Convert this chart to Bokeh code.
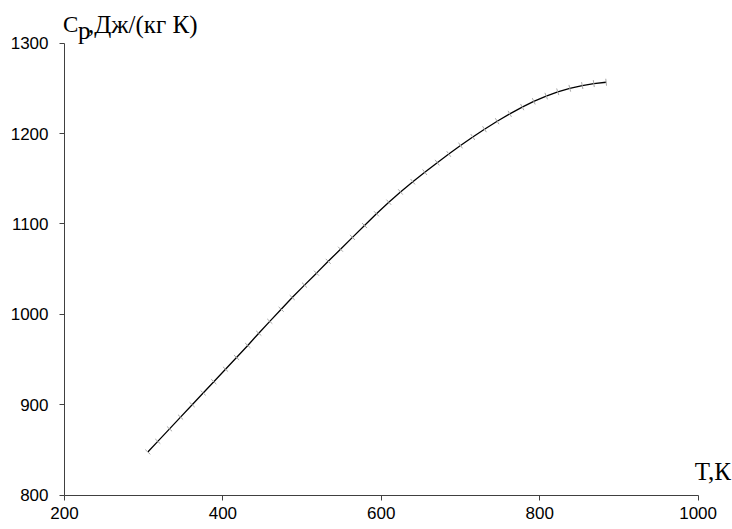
import numpy as np
from bokeh.plotting import figure
from bokeh.models import Range1d, FixedTicker, ColumnDataSource, LinearAxis
from bokeh.core.properties import value
from bokeh.embed import file_html
from bokeh.resources import INLINE

# --- data ---
T = [305.2, 317.8, 332.6, 346.5, 361.2, 375.1, 388.5, 403.3, 417.2, 431.4,
     445.3, 459.2, 473.6, 487.5, 503.0, 518.2, 533.0, 548.5, 563.6, 578.8,
     593.9, 609.5, 624.2, 639.8, 654.9, 670.6, 685.2, 700.0, 715.5, 730.3,
     746.3, 762.2, 777.9, 792.5, 808.2, 822.8, 838.0, 853.7, 868.3, 883.9]
Cp = [847.6, 859.4, 873.2, 886.2, 899.9, 912.9, 925.4, 939.2, 952.2, 965.5,
      979.0, 992.2, 1005.5, 1018.5, 1032.3, 1045.5, 1058.6, 1072.0, 1085.1, 1098.2,
      1111.2, 1124.0, 1135.4, 1146.7, 1157.2, 1167.8, 1177.4, 1186.8, 1196.2, 1204.8,
      1213.6, 1221.8, 1229.3, 1235.7, 1241.5, 1246.2, 1250.1, 1253.1, 1255.3, 1256.8]
x_ticks = [200, 400, 600, 800, 1000]
y_ticks = [800, 900, 1000, 1100, 1200, 1300]
x_label = "T,К"
y_label_main = "C"
y_label_sub = "p"
y_label_rest = ",Дж/(кг К)"

W, H = 732, 529
# pixel placement of the axis box inside the canvas
PX0, PX1 = 64.0, 697.6     # x = 200 .. 1000
PY0, PY1 = 494.5, 42.7     # y = 800 .. 1300 (canvas y, downwards)
sx = (PX1 - PX0) / 800.0
sy = (PY0 - PY1) / 500.0
DY = 9.0                   # baseline correction for text glyphs


def X(px):
    return 200 + (px - PX0) / sx


def Y(py):
    return 800 + (PY0 - py) / sy


p = figure(width=W, height=H, output_backend="svg", toolbar_location=None,
           x_range=Range1d(X(0), X(W)), y_range=Range1d(Y(H), Y(0)),
           x_axis_location=None, y_axis_location=None,
           min_border=0, min_border_left=0, min_border_right=0,
           min_border_top=0, min_border_bottom=0)
p.outline_line_color = None
p.grid.visible = False
p.background_fill_color = "white"
p.border_fill_color = "white"

xax = LinearAxis(fixed_location=800, bounds=(200, 1000), ticker=FixedTicker(ticks=x_ticks))
yax = LinearAxis(fixed_location=200, bounds=(800, 1300), ticker=FixedTicker(ticks=y_ticks))
for ax in (xax, yax):
    ax.axis_line_color = "#404040"
    ax.axis_line_width = 1
    ax.major_tick_line_color = "#404040"
    ax.major_tick_out = 5
    ax.major_tick_in = 0
    ax.minor_tick_line_color = None
    ax.major_label_text_font = "Liberation Sans"
    ax.major_label_text_font_size = "17px"
    ax.major_label_text_color = "black"
xax.major_label_standoff = 7
yax.major_label_standoff = 11
p.add_layout(xax, "below")
p.add_layout(yax, "left")

# tick marks on the curve, perpendicular to the line in screen space
Ta = np.array(T)
Ca = np.array(Cp)
dx = np.gradient(Ta) * sx
dy = np.gradient(Ca) * sy
ang = np.arctan2(dy, dx) + np.pi / 2
src = ColumnDataSource(dict(T=T, Cp=Cp, ang=ang))

p.line("T", "Cp", source=src, line_color="black", line_width=1.3)
p.scatter("T", "Cp", source=src, marker="dash", size=7, angle="ang",
          line_color="#a8a8a8", line_width=1)

# axis captions
serif = dict(text_font=value("Liberation Serif"), text_baseline="alphabetic",
             text_color="black")
p.text(x=[X(62.5)], y=[Y(33.3 - DY)], text=[y_label_main], text_font_size=value("23px"),
       text_align="left", **serif)
p.text(x=[X(77.5)], y=[Y(39.0 - DY)], text=[y_label_sub], text_font_size=value("25px"),
       text_align="left", **serif)
p.text(x=[X(87.5)], y=[Y(33.3 - DY)], text=[y_label_rest], text_font_size=value("25px"),
       text_align="left", **serif)
p.text(x=[X(730.5)], y=[Y(480.0 - DY)], text=[x_label], text_font_size=value("25px"),
       text_align="right", **serif)

open("out.html", "w").write(file_html(p, INLINE))
